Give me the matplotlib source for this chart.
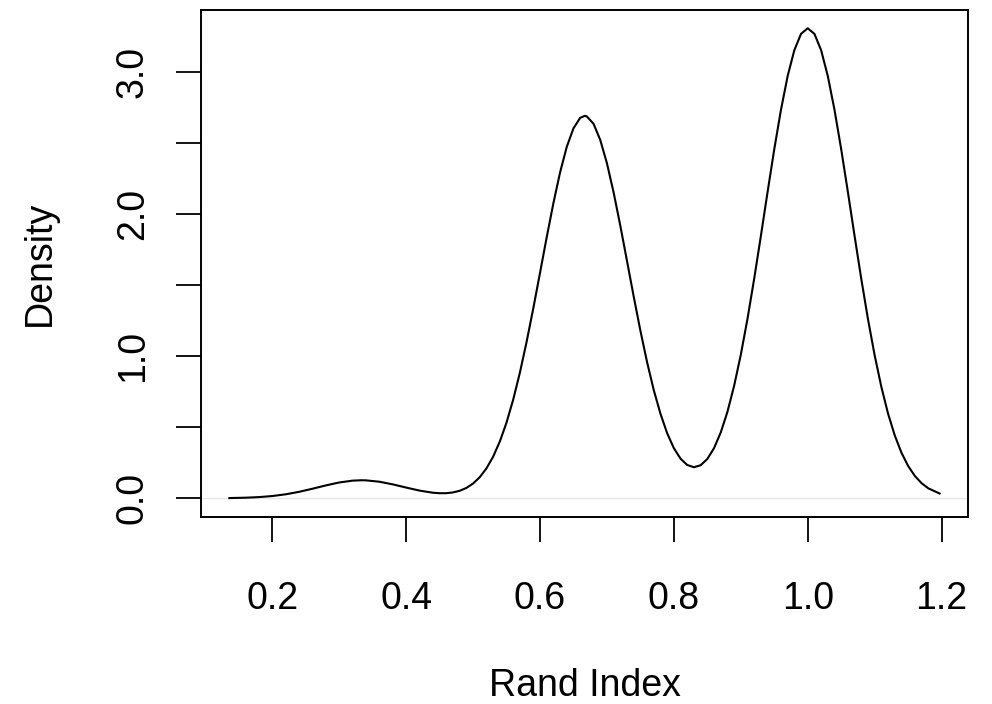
import matplotlib
matplotlib.use("Agg")
import matplotlib.pyplot as plt

# density curve of Rand Index
rand_index = [0.136, 0.14, 0.16, 0.18, 0.20, 0.22, 0.24, 0.26, 0.28, 0.30,
              0.32, 0.333, 0.34, 0.36, 0.38, 0.40, 0.42, 0.44, 0.45, 0.46,
              0.47, 0.48, 0.49, 0.50, 0.51, 0.52, 0.53, 0.54, 0.55, 0.56,
              0.57, 0.58, 0.59, 0.60, 0.61, 0.62, 0.63, 0.64, 0.65, 0.66,
              0.667, 0.67, 0.68, 0.69, 0.70, 0.71, 0.72, 0.73, 0.74, 0.75,
              0.76, 0.77, 0.78, 0.79, 0.80, 0.81, 0.82, 0.83, 0.84, 0.85,
              0.86, 0.87, 0.88, 0.89, 0.90, 0.91, 0.92, 0.93, 0.94, 0.95,
              0.96, 0.97, 0.98, 0.99, 1.00, 1.01, 1.02, 1.03, 1.04, 1.05,
              1.06, 1.07, 1.08, 1.09, 1.10, 1.11, 1.12, 1.13, 1.14, 1.15,
              1.16, 1.17, 1.18, 1.197]
density = [0.001, 0.0015, 0.0035, 0.0077, 0.0152, 0.0274, 0.0447, 0.0665, 0.0899, 0.1106,
           0.1235, 0.1262, 0.1256, 0.1160, 0.0974, 0.0749, 0.0535, 0.0385, 0.0350, 0.0353,
           0.0405, 0.0522, 0.0722, 0.1031, 0.1478, 0.2097, 0.292, 0.399, 0.532, 0.694,
           0.884, 1.100, 1.336, 1.584, 1.835, 2.075, 2.292, 2.472, 2.602, 2.676,
           2.690, 2.686, 2.634, 2.521, 2.357, 2.151, 1.917, 1.669, 1.419, 1.179,
           0.957, 0.760, 0.594, 0.457, 0.352, 0.278, 0.2336, 0.218, 0.232, 0.276,
           0.352, 0.462, 0.607, 0.790, 1.009, 1.262, 1.544, 1.845, 2.154, 2.455,
           2.732, 2.970, 3.152, 3.267, 3.306, 3.267, 3.152, 2.970, 2.732, 2.455,
           2.154, 1.845, 1.543, 1.260, 1.005, 0.783, 0.595, 0.442, 0.3204, 0.2268,
           0.1568, 0.1059, 0.0698, 0.033]

x_ticks = [0.2, 0.4, 0.6, 0.8, 1.0, 1.2]
x_labels = ["0.2", "0.4", "0.6", "0.8", "1.0", "1.2"]
y_ticks = [0.0, 0.5, 1.0, 1.5, 2.0, 2.5, 3.0]
y_labels = ["0.0", "", "1.0", "", "2.0", "", "3.0"]

plt.rcParams["font.family"] = ["Liberation Sans", "DejaVu Sans"]

fig = plt.figure(figsize=(9.92, 7.04), dpi=100)
ax = fig.add_axes([201 / 992, 1 - 517 / 704, 767 / 992, 507.5 / 704])

ax.axhline(0, color="#e6e6e6", lw=1.0, zorder=1)
ax.plot(rand_index, density, color="black", lw=1.5, zorder=2,
        solid_joinstyle="round")

span_x = max(rand_index) - min(rand_index)
ax.set_xlim(min(rand_index) - 0.04 * span_x, max(rand_index) + 0.04 * span_x)
top = max(density)
ax.set_ylim(-0.04 * top, 1.04 * top)

ax.set_xticks(x_ticks)
ax.set_xticklabels(x_labels)
ax.set_yticks(y_ticks)
ax.set_yticklabels(y_labels, rotation=90, va="center")

ax.tick_params(axis="both", length=18, width=1.3, labelsize=27, color="black")
ax.tick_params(axis="x", pad=28)
ax.tick_params(axis="y", pad=18)
for s in ax.spines.values():
    s.set_linewidth(1.4)

fig.text(584.5 / 992, 1 - 686 / 704, "Rand Index", ha="center", va="center", fontsize=27)
fig.text(40 / 992, 1 - 263 / 704, "Density", ha="center", va="center", rotation=90, fontsize=27)

fig.savefig("out.png", dpi=100)
